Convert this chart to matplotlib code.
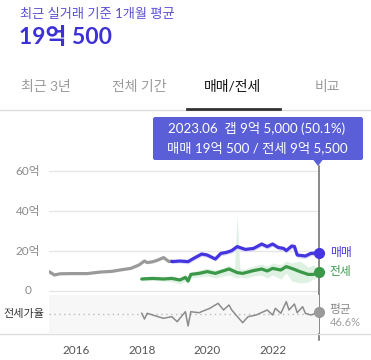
import matplotlib.pyplot as plt
from matplotlib.patches import FancyBboxPatch, Polygon
from matplotlib.lines import Line2D

plt.rcParams['font.family'] = ['Lato', 'Noto Sans CJK KR', 'DejaVu Sans']

# month index: 0 = 2015.01
# 매매 before the recent window (gray)
old_months = [2, 4, 6, 10, 16, 21, 25, 28, 32, 35, 37, 38, 40, 42, 44, 46, 47]
old_sale = [9.7, 8.0, 8.6, 8.7, 8.7, 9.5, 9.8, 10.5, 11.3, 13.0, 15.0, 14.2, 14.6, 15.5, 16.7, 14.7, 15.0]

# 매매 (blue), 억
sale_months = [47, 50, 53, 55, 58, 60, 63, 65, 67, 69, 71, 74, 77, 80, 82, 84, 86, 88, 89, 91, 92, 93, 96, 98, 101]
sale = [14.7, 15.0, 14.7, 16.3, 18.5, 18.0, 16.0, 18.8, 19.3, 20.2, 22.2, 20.8, 21.3, 23.5, 22.2, 23.5, 21.8, 21.3, 20.2, 22.5, 22.3, 18.0, 17.5, 18.8, 19.05]
sale_lo = [13.8, 14.0, 13.6, 15.2, 17.3, 16.8, 15.0, 17.6, 18.2, 19.0, 21.0, 19.6, 20.2, 22.3, 21.0, 22.3, 20.6, 20.0, 19.0, 21.2, 20.0, 16.6, 16.4, 17.6, 18.0]
sale_hi = [15.2, 15.6, 15.3, 16.9, 19.1, 18.6, 16.6, 19.4, 19.9, 20.8, 22.8, 21.4, 21.9, 24.1, 22.8, 24.1, 22.4, 21.9, 20.8, 23.1, 22.9, 18.6, 18.1, 19.4, 19.6]

# 전세 (green), 억
jeonse_months = [36, 40, 44, 47, 50, 52, 53, 54, 57, 60, 63, 65, 68, 71, 73, 77, 80, 82, 84, 87, 89, 91, 94, 97, 99, 101]
jeonse = [6.0, 6.3, 6.0, 6.3, 5.5, 6.8, 5.0, 8.3, 8.8, 9.7, 8.8, 9.7, 11.0, 9.2, 8.8, 10.2, 11.0, 10.0, 11.3, 10.5, 12.2, 11.3, 9.7, 8.3, 8.3, 9.55]

# 전세 range band
band_months = [36, 40, 44, 47, 50, 52, 53, 54, 57, 60, 63, 66, 68, 70, 71, 72, 74, 77, 80, 82, 84, 87, 89, 91, 94, 97, 99, 101]
band_lo = [5.0, 5.3, 5.0, 4.8, 3.5, 5.0, 3.5, 6.5, 7.0, 7.5, 6.5, 7.5, 8.0, 7.0, 6.5, 7.0, 6.5, 7.5, 8.0, 6.5, 8.0, 6.0, 9.0, 5.0, 4.0, 4.5, 6.0, 7.0]
band_hi = [7.0, 7.3, 7.0, 7.5, 6.5, 8.0, 6.5, 9.5, 10.5, 11.5, 10.5, 11.5, 13.0, 11.0, 38.0, 11.0, 11.0, 12.5, 13.5, 12.5, 14.0, 13.0, 15.0, 14.0, 15.0, 12.0, 13.0, 11.0]

# 전세가율 (%)
ratio_months = [36, 37, 38, 42, 44, 47, 49, 51, 52, 53, 54, 57, 61, 64, 66, 68, 69, 73, 75, 78, 82, 84, 85, 87, 89, 90, 92, 93, 95, 96, 98, 101]
ratio = [48.0, 36.6, 48.0, 41.2, 38.0, 41.2, 31.2, 44.6, 51.2, 22.6, 51.2, 49.2, 58.0, 68.0, 54.6, 64.6, 54.6, 29.2, 41.2, 44.6, 54.6, 44.6, 58.0, 48.0, 71.2, 54.6, 66.6, 49.2, 61.2, 48.0, 44.6, 50.0]
ratio_avg = 46.6

ytick_vals = [0, 20, 40, 60]
ytick_labels = ['0', '20억', '40억', '60억']
xtick_vals = [12, 36, 60, 84]
xtick_labels = ['2016', '2018', '2020', '2022']

W, H = 371, 360
BLUE = '#4535e0'
GREEN = '#3a9848'
GRAY = '#9a9a9a'

fig = plt.figure(figsize=(W / 100, H / 100), dpi=100)

def fx(x):
    return x / W

def fy(y):
    return 1 - y / H

# header
fig.text(fx(20), fy(14), '최근 실거래 기준 1개월 평균', fontsize=9.5, color='#5a4fd8', va='center')
fig.text(fx(19), fy(38), '19억 500', fontsize=16.5, fontweight='bold', color='#3c30d6', va='center')

# tabs
tabs = ['최근 3년', '전체 기간', '매매/전세', '비교']
tab_x = [46, 139, 233, 327]
for t, x in zip(tabs, tab_x):
    c = '#111111' if t == '매매/전세' else '#9a9a9a'
    fig.text(fx(x), fy(87), t, fontsize=10, color=c, ha='center', va='center')
fig.add_artist(Line2D([0, 1], [fy(110), fy(110)], color='#dddddd', lw=1))
fig.add_artist(Line2D([fx(187), fx(280)], [fy(108.5), fy(108.5)], color='#333333', lw=2))
fig.add_artist(Line2D([0, 1], [fy(334), fy(334)], color='#dddddd', lw=1))

# main chart
ax = fig.add_axes([fx(49), fy(295), (319 - 49) / W, (295 - 166) / H])
ax.set_xlim(2, 101)
ax.set_ylim(-2, 62.5)
ax.axis('off')
for v, lab in zip(ytick_vals, ytick_labels):
    ax.axhline(v, color='#e6e6e6', lw=1, zorder=0)
    ax.text(-0.078, v, lab, transform=ax.get_yaxis_transform(), ha='center', va='center',
            fontsize=8.5, color='#8a8a8a')

ax.fill_between(band_months, band_lo, band_hi, color='#dff1e3', lw=0, zorder=1)
ax.fill_between(sale_months, sale_lo, sale_hi, color='#dcd9f6', lw=0, zorder=1)
ax.plot(old_months, old_sale, color=GRAY, lw=2.3, solid_capstyle='round', zorder=2)
ax.plot(sale_months, sale, color=BLUE, lw=2.3, solid_capstyle='round', zorder=3)
ax.plot(jeonse_months, jeonse, color=GREEN, lw=2.3, solid_capstyle='round', zorder=3)
ax.plot([sale_months[-1]], [sale[-1]], 'o', color=BLUE, ms=7, clip_on=False, zorder=5)
ax.plot([jeonse_months[-1]], [jeonse[-1]], 'o', color=GREEN, ms=7, clip_on=False, zorder=5)
ax.text(1.04, sale[-1], '매매', transform=ax.get_yaxis_transform(), fontsize=8.5, color=BLUE, va='center')
ax.text(1.04, jeonse[-1], '전세', transform=ax.get_yaxis_transform(), fontsize=8.5, color=GREEN, va='center')
ax.axvline(sale_months[-1], ymin=-0.35, ymax=1.0, color='#6a6a6a', lw=1.1, clip_on=False, zorder=4)

# ratio panel
axr = fig.add_axes([fx(49), fy(333), (319 - 49) / W, (333 - 295) / H])
axr.set_xlim(2, 101)
axr.set_ylim(8.6, 84.6)
axr.set_facecolor('#f7f7f7')
for s in axr.spines.values():
    s.set_visible(False)
axr.set_yticks([])
axr.set_xticks(xtick_vals, xtick_labels)
axr.tick_params(axis='x', length=0, pad=9, labelsize=8.5, labelcolor='#555555')
axr.axhline(ratio_avg, color='#bbbbbb', lw=1, ls=(0, (1, 2.5)), zorder=1)
axr.plot(ratio_months, ratio, color='#8c8c8c', lw=1.1, zorder=2)
axr.plot([ratio_months[-1]], [ratio[-1]], 'o', color='#9a9a9a', ms=7, clip_on=False, zorder=5)
axr.text(-0.093, ratio_avg, '전세가율', transform=axr.get_yaxis_transform(), ha='center', va='center',
         fontsize=8, color='#333333')
axr.text(1.04, ratio[-1] + 6, '평균', transform=axr.get_yaxis_transform(), fontsize=8.5, color='#8a8a8a', va='center')
axr.text(1.04, ratio[-1] - 20, '46.6%', transform=axr.get_yaxis_transform(), fontsize=8, color='#a0a0a0', va='center')

# tooltip
TIP = '#5a5fd8'
fig.add_artist(FancyBboxPatch((fx(153), fy(160)), fx(363 - 153), (160 - 117) / H,
                              boxstyle='round,pad=0,rounding_size=0.006', fc=TIP, ec='none',
                              transform=fig.transFigure))
fig.add_artist(Polygon([[fx(313), fy(159.5)], [fx(323), fy(159.5)], [fx(318), fy(166)]],
                       closed=True, fc=TIP, ec='none', transform=fig.transFigure))
fig.text(fx(257), fy(128), '2023.06  갭 9억 5,000 (50.1%)', fontsize=9.6, color='white', ha='center', va='center')
fig.text(fx(257), fy(148), '매매 19억 500 / 전세 9억 5,500', fontsize=9.6, color='white', ha='center', va='center')

fig.savefig('out.png', dpi=100)
